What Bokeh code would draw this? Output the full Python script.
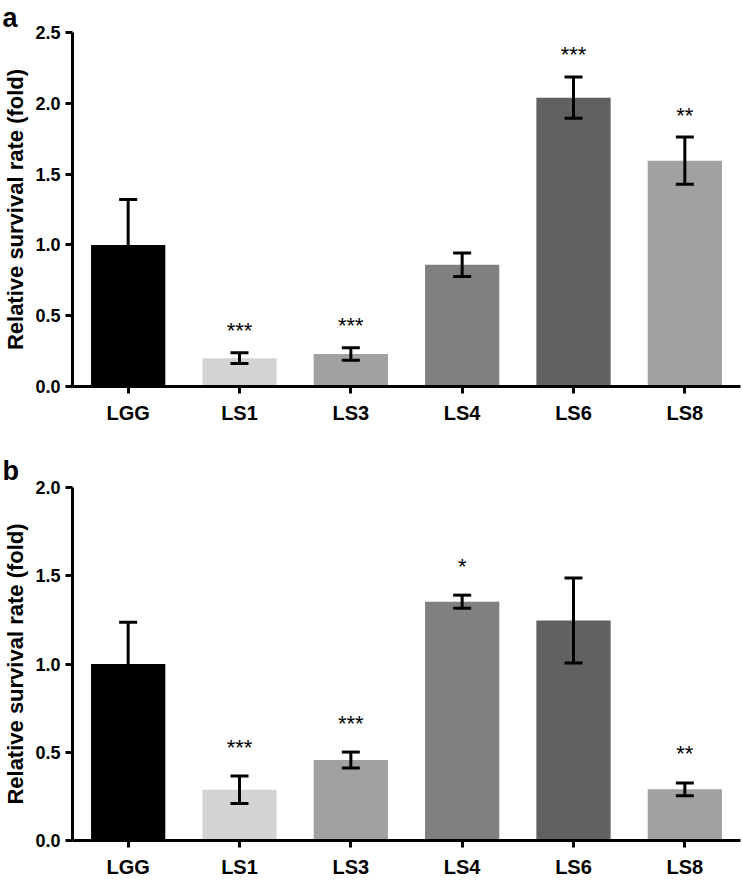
from bokeh.plotting import figure
from bokeh.models import (ColumnDataSource, FactorRange, Range1d, FixedTicker,
                          PrintfTickFormatter, Whisker, TeeHead)
from bokeh.layouts import column
from bokeh.core.properties import value
from bokeh.embed import file_html
from bokeh.resources import INLINE

categories = ["LGG", "LS1", "LS3", "LS4", "LS6", "LS8"]
bar_colors = ["#000000", "#d3d3d3", "#a1a1a1", "#808080", "#616161", "#a1a1a1"]

# Panel a
a_values = [1.00, 0.20, 0.23, 0.86, 2.04, 1.595]
a_errors = [0.32, 0.038, 0.044, 0.083, 0.146, 0.167]
a_stars = ["", "***", "***", "", "***", "**"]
a_ticks = [0.0, 0.5, 1.0, 1.5, 2.0, 2.5]

# Panel b
b_values = [1.00, 0.287, 0.456, 1.353, 1.246, 0.29]
b_errors = [0.237, 0.078, 0.045, 0.037, 0.241, 0.036]
b_stars = ["", "***", "***", "*", "", "**"]
b_ticks = [0.0, 0.5, 1.0, 1.5, 2.0]

FONT = "Liberation Sans"
LEFT = 66


def make_panel(values, errors, stars, ticks, ymax, letter, height,
               border_top, border_bottom, star_offset, title_standoff):
    src = ColumnDataSource(dict(
        cats=categories,
        vals=values,
        upper=[v + e for v, e in zip(values, errors)],
        lower=[v - e for v, e in zip(values, errors)],
        colors=bar_colors,
        stars=stars,
    ))
    p = figure(x_range=FactorRange(factors=categories, range_padding=0),
               y_range=Range1d(0, ymax),
               width=742, height=height,
               output_backend="svg", toolbar_location=None,
               min_border_left=LEFT, min_border_right=2,
               min_border_top=border_top, min_border_bottom=border_bottom,
               title=letter)
    p.outline_line_color = None
    p.xgrid.visible = False
    p.ygrid.visible = False
    p.background_fill_color = "white"
    p.border_fill_color = "white"

    p.title.align = "left"
    p.title.offset = -70
    p.title.standoff = title_standoff
    p.title.text_font = FONT
    p.title.text_font_style = "bold"
    p.title.text_font_size = "27px"
    p.title.text_color = "black"

    p.vbar(x="cats", top="vals", width=0.667, fill_color="colors",
           line_color=None, source=src)

    w = Whisker(source=src, base="cats", upper="upper", lower="lower",
                line_color="black", line_width=3, level="annotation",
                upper_head=TeeHead(size=18, line_width=3, line_color="black"),
                lower_head=TeeHead(size=18, line_width=3, line_color="black"))
    p.add_layout(w)

    p.text(x="cats", y="upper", text="stars", source=src,
           text_align="center", text_baseline="alphabetic",
           text_font=value(FONT), text_font_size="22px", text_color="black",
           y_offset=star_offset)

    # axes
    yax = p.yaxis[0]
    yax.ticker = FixedTicker(ticks=ticks)
    yax.formatter = PrintfTickFormatter(format="%.1f")
    yax.minor_tick_line_color = None
    yax.major_tick_in = 0
    yax.major_tick_out = 7
    yax.major_tick_line_width = 3
    yax.axis_line_width = 3
    yax.major_label_text_font = FONT
    yax.major_label_text_font_style = "bold"
    yax.major_label_text_font_size = "18px"
    yax.major_label_text_color = "black"
    yax.major_label_standoff = 5
    yax.axis_label = "Relative survival rate (fold)"
    yax.axis_label_text_font = FONT
    yax.axis_label_text_font_style = "bold"
    yax.axis_label_text_font_size = "22px"
    yax.axis_label_text_color = "black"
    yax.axis_label_standoff = 4

    xax = p.xaxis[0]
    xax.major_tick_in = 0
    xax.major_tick_out = 7
    xax.major_tick_line_width = 3
    xax.axis_line_width = 3
    xax.major_label_text_font = FONT
    xax.major_label_text_font_style = "bold"
    xax.major_label_text_font_size = "20px"
    xax.major_label_text_color = "black"
    xax.major_label_standoff = 8
    return p


pa = make_panel(a_values, a_errors, a_stars, a_ticks, 2.5, "a", 432,
                0, 46, -22, 0)
pb = make_panel(b_values, b_errors, b_stars, b_ticks, 2.0, "b", 448,
                55, 37, -29, 4)

layout = column(pa, pb, spacing=0)
open("out.html", "w").write(file_html(layout, INLINE))
